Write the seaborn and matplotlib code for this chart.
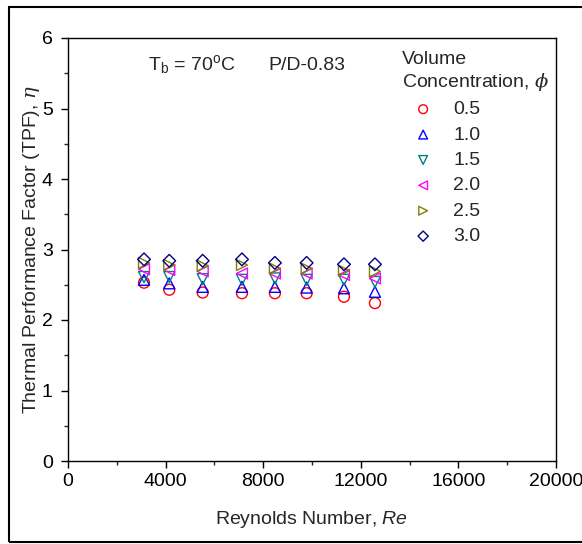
import matplotlib
matplotlib.use("Agg")
import matplotlib.pyplot as plt
import seaborn as sns
import numpy as np
from matplotlib.ticker import MultipleLocator
from matplotlib.patches import Rectangle

sns.set_style("white")
plt.rcParams['font.family'] = ['Liberation Sans', 'DejaVu Sans']
plt.rcParams['mathtext.fontset'] = 'custom'
plt.rcParams['mathtext.rm'] = 'Liberation Sans'
plt.rcParams['mathtext.it'] = 'DejaVu Serif:italic'
plt.rcParams['mathtext.sf'] = 'Liberation Sans:italic'

reynolds = [3115, 4150, 5520, 7130, 8480, 9780, 11310, 12580]
tpf_05 = [2.53, 2.43, 2.39, 2.38, 2.38, 2.38, 2.33, 2.24]
tpf_10 = [2.57, 2.52, 2.47, 2.47, 2.47, 2.46, 2.45, 2.40]
tpf_15 = [2.61, 2.61, 2.58, 2.57, 2.59, 2.57, 2.57, 2.54]
tpf_20 = [2.72, 2.71, 2.69, 2.66, 2.66, 2.66, 2.64, 2.59]
tpf_25 = [2.81, 2.78, 2.77, 2.78, 2.73, 2.73, 2.70, 2.69]
tpf_30 = [2.86, 2.84, 2.84, 2.86, 2.81, 2.81, 2.79, 2.79]
labels = ["0.5", "1.0", "1.5", "2.0", "2.5", "3.0"]

series = [tpf_05, tpf_10, tpf_15, tpf_20, tpf_25, tpf_30]
markers = ['o', '^', 'v', '<', '>', 'D']
colors = ['#FF0000', '#0000FF', '#008080', '#FF00FF', '#808000', '#000080']
sizes = [62, 62, 62, 62, 62, 42]

FS = 14

fig = plt.figure(figsize=(5.82, 5.44), dpi=100)
ax = fig.add_axes([68/582, 1-461/544, (556-68)/582, (461-38)/544])

for vals, m, c, s, lab in zip(series, markers, colors, sizes, labels):
    sns.scatterplot(x=reynolds, y=vals, marker=m, s=s, color=c,
                    facecolor='none', edgecolor=c, linewidth=1.0,
                    label=lab, ax=ax)

ax.set_xlim(0, 20000)
ax.set_ylim(0, 6)
ax.xaxis.set_major_locator(MultipleLocator(4000))
ax.xaxis.set_minor_locator(MultipleLocator(2000))
ax.yaxis.set_major_locator(MultipleLocator(1))
ax.yaxis.set_minor_locator(MultipleLocator(0.5))
ax.tick_params(which='major', direction='out', length=5, width=1,
               labelsize=FS, bottom=True, left=True, top=False, right=False, colors='black')
ax.tick_params(which='minor', direction='out', length=3, width=1,
               bottom=True, left=True, top=False, right=False)
ax.tick_params(axis='x', which='major', pad=4)
ax.tick_params(axis='y', which='major', pad=6)
for sp in ax.spines.values():
    sp.set_visible(True)
    sp.set_color('black')
    sp.set_linewidth(1.0)

ax.set_xlabel(r'Reynolds Number, $\mathsf{Re}$', fontsize=FS, labelpad=13)
ax.set_ylabel(r'Thermal Performance Factor (TPF), $\eta$', fontsize=FS, labelpad=-0.5)

fig.text(148/582, 1-65/544, r'T$_\mathregular{b}$ = 70$^\mathregular{o}$C', fontsize=FS,
         va='center', ha='left')
fig.text(268/582, 1-65/544, 'P/D-0.83', fontsize=FS, va='center', ha='left')

leg = ax.legend(title='Volume\nConcentration, $\\phi$', loc='upper left',
                bbox_to_anchor=(0.664, 0.993), frameon=False, fontsize=FS,
                title_fontsize=FS, borderpad=0, handlelength=2.2,
                handletextpad=0.45, labelspacing=0.40, markerscale=0.8)
leg._legend_box.align = 'left'

fig.add_artist(Rectangle((9/582, 1-542/544), 1.0, (542-7)/544, transform=fig.transFigure,
                         fill=False, edgecolor='black', linewidth=1.5))

fig.savefig('out.png', dpi=100)
